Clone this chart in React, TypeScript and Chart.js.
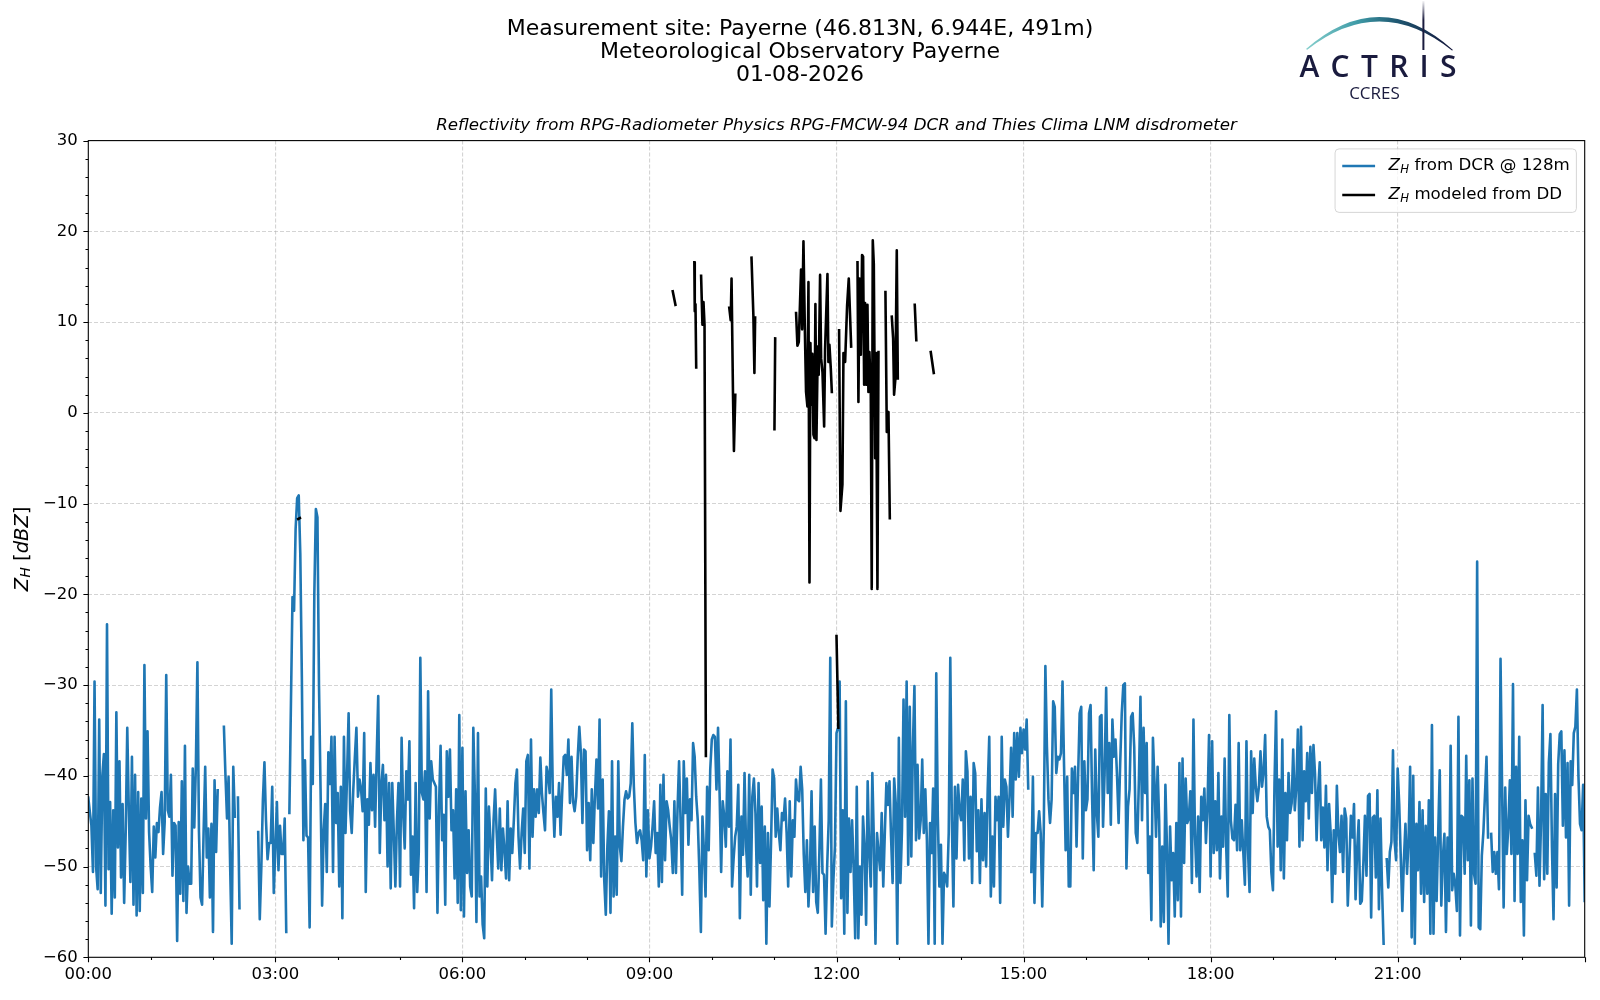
import React, { useEffect, useRef } from 'react';
import { Chart, registerables } from 'chart.js';

Chart.register(...registerables);

const FONT = "'DejaVu Sans', sans-serif";

const titleLines = [
  'Measurement site: Payerne (46.813N, 6.944E, 491m)',
  'Meteorological Observatory Payerne',
  '01-08-2026',
];
const subtitleText =
  'Reflectivity from RPG-Radiometer Physics RPG-FMCW-94 DCR and Thies Clima LNM disdrometer';
const legendRest = [' from DCR @ 128m', ' modeled from DD'];
const seriesColors = ['#1f77b4', '#000000'];

// Z_H from DCR @ 128m, one value every 1.5 minutes from 00:00 (null = no data)
const dcrStepMinutes = 1.5;
const dcrZh = [
  -42.4, -44, -45.5, -50.6, -29.6, -50, -52.5, -33.8, -52.9, -40,
  -37.6, -54.3, -23.3, -50.3, -42.9, -55.2, -43.8, -53.4, -33, -47.9,
  -38.4, -51.2, -43.1, -54, -46.2, -34.7, -43.8, -51.7, -37.9, -54.2,
  -39.9, -55.4, -41.8, -54.9, -42.5, -52.9, -27.8, -44.7, -35.1, -46.2,
  -50, -52.8, -45.6, -49, -45.2, -46.2, -43.5, -41.8, -48.6, -45.1,
  -28.9, -43.8, -44.5, -39.9, -51, -45.2, -45.5, -58.2, -45.1, -53,
  -40.6, -53.8, -36.7, -55.1, -50, -51.9, -51.9, -39.2, -45.7, -39,
  -27.5, -46.2, -53.4, -54.2, -46, -39, -49, -45.8, -53.4, -45.3,
  -57.2, -40.5, -48.4, -41.6, null, null, null, -34.6, -40, -44.7,
  -40.1, -49.9, -58.5, -39, -44.5, null, -42.4, -54.6, null, null,
  null, null, null, null, null, null, null, null, null, -46.2,
  -55.8, -50.1, -42.7, -38.5, -44.9, -49.2, -47.4, -47.4, -41.2, -52.9,
  -47.9, -42.9, -50.4, -45.5, -48.6, -48.6, -44.7, -57.2, null, -44.1,
  -32, -20.3, -21.8, -12.8, -9.4, -9.1, -15.5, -29.1, -47.1, -38.3,
  -46.6, -46.8, -56.7, -35.7, -40.9, -20, -10.6, -11.5, -30, -41.4,
  -54.3, -46, -43.1, -50.6, -37.4, -40.9, -35.7, -50.6, -35.7, -45.2,
  -41.9, -52.2, -41.2, -55.7, -35.7, -46.3, -40, -33.1, -43.9, -46.3,
  -41.5, -38, -34.7, -42.3, -40.4, -41.5, -43.9, -35.3, -52.8, -42.6,
  -45.4, -38.6, -43.8, -39.9, -45.6, -38, -31.2, -48.5, -41, -38.8,
  -44.9, -39.9, -50, -40.8, -52.4, -40.8, -46.3, -52.2, -45, -40.8,
  -52.2, -35.8, -44.1, -48, -39.5, -42.6, -36.2, -50.9, -46.7, -54.6,
  -40.8, -52.8, -48.5, -27, -41.9, -42.6, -39.5, -52.8, -30.7, -44.7,
  -38.4, -40.4, -40.8, -41.2, -55.1, -43.4, -36.7, -47.1, -44.3, -54.2,
  -37.3, -42.3, -37.1, -46, -43.8, -51.3, -41.5, -54, -33.3, -54.8,
  -36.9, -55.5, -41.7, -50.7, -46, -52.2, -53.3, -34.7, -41.9, -56.1,
  -35.3, -53.3, -51.1, -56.4, -57.9, -41.4, -52.2, -43.4, -47.1, -51.5,
  -44.9, -41.5, -46.3, -50.2, -43.6, -50.4, -45.8, -48.2, -51.3, -42.8,
  -51.5, -45.8, -48.5, -44.9, -40.8, -39.3, -46.7, -50.2, -46.3, -43.6,
  -48.5, -38.4, -37.7, -50.2, -36, -46.7, -41.5, -44.5, -41.5, -44.1,
  -38, -41.9, -44.1, -46, -39, -39.9, -41.9, -30.5, -41.9, -46.7,
  -42.3, -44.5, -40.8, -46.5, -41.9, -37.9, -37.7, -39.9, -36, -43,
  -37.9, -42.8, -43.9, -42.3, -37.9, -34.6, -37.5, -45.2, -37.1, -37.3,
  -48.2, -43, -49.3, -41.5, -47.4, -42.3, -38.2, -43.6, -33.8, -51.1,
  -40.4, -51.5, -55.3, -47.8, -43.9, -55.1, -38.4, -53.3, -46.7, -53.1,
  -38.4, -47.8, -49.4, -45.6, -42.6, -41.7, -42.5, -42.3, -40.8, -34.2,
  -41.2, -45.2, -47.4, -46.3, -46, -47.1, -49.3, -37.7, -51.1, -43.8,
  -49.1, -47.8, -45.6, -42.8, -48.5, -46.3, -52.2, -41, -51.7, -39.9,
  -49.3, -42.8, -43.8, -45.6, -47.1, -50.7, -42.8, -50.7, -43.8, -38.4,
  -45.2, -53.1, -38.4, -44.1, -40.3, -47.6, -42.6, -44.9, -36.4, -37.9,
  -42.3, -44.9, -50.4, -57.2, -44.5, -48.5, -53.3, -41.2, -48.2, -39.3,
  -36, -35.5, -35.7, -41.5, -34.7, -41.9, -50.6, -42.8, -44.5, -47.8,
  -39.5, -45.6, -36, -52.2, -49.1, -46.7, -45.6, -41, -55.7, -44.5,
  -48.7, -39.7, -47.8, -51.1, -39.9, -53.1, -42.3, -40.3, -44.1, -52.2,
  -40.8, -49.6, -43.4, -53.7, -45.6, -58.5, -46.3, -54.4, -47.4, -39.3,
  -40.3, -46.7, -43.6, -46.3, -48.2, -44.1, -44.9, -42.5, -46.3, -52.2,
  -42.8, -51.1, -44.9, -46.7, -40.4, -42.6, -42.8, -39, -41.5, -48.7,
  -52.8, -47.1, -54.4, -50.2, -41.7, -52.8, -45.6, -53.9, -55.1, -48.5,
  -40.4, -50.7, -50.9, -57.4, -50, -44.9, -27, -56.6, -51.5, -47.8,
  -35.3, -34.7, -29.6, -53.5, -43.8, -57.4, -31.8, -55.1, -44.7, -50.6,
  -44.9, -50.2, -57.9, -41.2, -57.9, -50, -55.3, -44.5, -47.8, -56.4,
  -40.6, -48.5, -52.2, -39.7, -47.4, -58.5, -46.3, -48.5, -50.4, -44.1,
  -52.2, -46.3, -40.8, -43.2, -40.6, -46.7, -51.8, -40.3, -43, -58.5,
  -35.8, -51.8, -46, -31.6, -44.5, -29.6, -49.8, -32.4, -48.9, -36.8,
  -30.1, -47.1, -38.8, -46.9, -44.9, -38.2, -46.3, -41.5, -47.1, -58.5,
  -45.2, -48.5, -41.4, -58.5, -28.7, -44.5, -52.2, -47.6, -58.5, -50.7,
  -51.1, -52.2, -46.3, -27, -44.9, -54.4, -41.2, -49.1, -41, -43.9,
  -44.9, -40.4, -49.3, -37.3, -39.5, -49.1, -42.3, -51.8, -38.6, -39.7,
  -48.3, -43.8, -51.8, -42.6, -49.3, -44.1, -50, -41.5, -35.7, -53.3,
  -46.7, -52.2, -42.3, -44.9, -42.3, -54, -35.7, -45.6, -40.4, -41.2,
  -46.7, -42.3, -36.9, -44.5, -35.3, -40.4, -35.3, -40.1, -34.7, -37.5,
  -34.9, -37.1, -33.8, -41.4, null, -50.6, -40.1, -54, -46.3, -46.3,
  -43.9, -46.3, -54.4, -45.6, -27.9, -36.8, -42.6, -45.2, -42.6, -31.8,
  -32.4, -39.7, -37.9, -38.2, -37.5, -29.6, -39, -48.2, -40.1, -52.2,
  -52.2, -39.2, -41.9, -39, -47.8, -40.1, -33.1, -32.4, -49.1, -38.4,
  -43.8, -42.6, -33.1, -32.2, -42.6, -50.4, -37.1, -44.1, -46.7, -33.5,
  -33.3, -45.6, -39.7, -30.3, -41.9, -36.4, -45.4, -33.8, -37.9, -36,
  -40.1, -45.2, -38.6, -33.1, -30, -29.8, -50.2, -43.4, -41.5, -33.5,
  -33.1, -36.8, -46.3, -47.4, -40.4, -31.3, -44.9, -34.7, -41.9, -36.4,
  -50.7, -46.7, -55.9, -35.8, -40.6, -46.7, -39, -44.9, -56.6, -47.8,
  -56.1, -41, -47.8, -58.5, -45.6, -51.5, -48.5, -55.5, -45.2, -53.7,
  -38.6, -55.5, -38.1, -49.6, -40.3, -45.2, -44.7, -41.7, -51.8, -33.8,
  -46.7, -51.1, -44.5, -52.8, -42.3, -44.9, -41.4, -47.4, -43.4, -35.5,
  -51.1, -36.2, -48.5, -42.8, -48.2, -39.7, -51.3, -44.5, -47.8, -38.1,
  -47.8, -53.3, -33.3, -44.9, -46.9, -47.1, -43.2, -48.2, -36.4, -48.2,
  -44.9, -48.5, -52, -36.2, -48.2, -52.8, -37.3, -44.1, -38.1, -41.2,
  -42.8, -41.2, -37.3, -41.2, -39.5, -35.5, -44.5, -45.6, -46, -50.7,
  -52.6, -40.8, -32.9, -47.8, -40.4, -50.4, -36, -51.3, -41.9, -47.1,
  -39.7, -44.1, -43, -37.1, -43.8, -41.2, -34.9, -47.8, -34.6, -47.1,
  -39.5, -42.8, -37.5, -44.7, -36.8, -41.9, -36.6, -39.8, -47.1, -41.6,
  -38.5, -47.1, -43.5, -47.9, -41.1, -50.4, -43.1, -46.2, -53.9, -46,
  -50.8, -41.1, -46.4, -48.4, -44.4, -50.6, -43.6, -44.7, -54.3, -49.7,
  -44.4, -46.8, -43.1, -53.6, -48.2, -44.9, -54.1, -53.8, -49.7, -44.4,
  -51, -42.2, -42, -55.6, -44.6, -44.4, -51.2, -41.6, -54.7, -44.7,
  -52.5, -58.5, null, -49.2, -52.3, -48.4, -47.3, -37.2, -47.1, -49.3,
  -39.2, -43.1, -49, -54.9, -49.3, -45.3, -50.8, -47.1, -39, -57.8,
  -40, -58.5, -45.3, -50.4, -42.9, -53, -43.8, -53.9, -45.5, -53,
  -42.7, -57.4, -34.4, -57.4, -46.8, -53.8, -46.4, -39.4, -54.3, -49,
  -46.4, -57.2, -46.8, -53.8, -36.7, -52.6, -50.8, -52.1, -54.9, -33.5,
  -57.6, -44.4, -44.6, -50.8, -37.8, -49.3, -40.5, -56.5, -40.3, -50.8,
  -51.9, -16.4, -56.7, -56.9, -48.8, -46.2, -42.2, -37.9, -46.8, null,
  -46.4, -50.6, -48.4, -50.8, -48.4, -52.5, -27.1, -41.3, -54.5, -41.3,
  -48.6, -45.7, -40.5, -48.6, -29.9, -53.8, -39, -48.6, -35.7, -53.9,
  -47.1, -57.6, -42.7, -51.5, -44.4, -45.3, -45.7, null, -48.6, -51,
  -41.3, -52.1, -44.9, -32.2, -51.4, -42, -50.8, -38.5, -35.4, -47.9,
  -55.8, -42, -52.3, -38.7, -35.4, -35.1, -45.5, -37.2, -46.8, -38.6,
  -54.3, -38.4, -41, -35.3, -34.6, -30.5, -40.1, -45.3, -46, -41,
  -53.8,
];

// Z_H modeled from the disdrometer: time (minutes after 00:00) and value (null = gap)
const ddMinutes = [
  202.0, 203.6, 204,
  562.4, 565.0, 566,
  583.2, 583.6, 584.3, 585.0, 586,
  589.7, 591.0, 592.0, 593.0, 594.3, 595,
  616.8, 618.2, 619.0, 620.4, 621.3, 622.6, 623,
  638.2, 640.0, 641.0, 641.7, 642,
  660.3, 661.0, 662,
  681.1, 682.4, 683.7, 685.0, 685.9, 686.9, 688.2, 689.5, 690.7, 692.0,
  693.0, 694.0, 694.9, 695.9, 696.8, 697.8, 698.8, 699.7, 700.7, 702.0,
  702.9, 704.2, 705.2, 706.5, 708.1, 709.0, 711.3, 712.2, 713.2, 714.5,
  715.5, 716,
  720.0, 721.8, 722.2,
  722.5, 723.8, 725.7, 726.7, 728.3, 730.2, 731.8, 734.1, 735,
  740.2, 741.1, 742.1, 743.4, 744.6, 745.6, 746.6, 747.5, 748.5, 749.8,
  750.7, 751.7, 753.0, 753.9, 754.9, 755.9, 757.2, 758.1, 759.4, 760.4,
  761,
  767.1, 768.4, 770.0, 771.3, 772,
  773.2, 774.5, 775.4, 776.7, 778.0, 779.0, 780,
  795.3, 796.8, 797,
  810.7, 813.6,
];
const ddZh = [
  -11.7, -11.6, null,
  13.4, 11.9, null,
  16.6, 11.2, 12.0, 5.0, null,
  15.1, 9.7, 12.2, 9.7, -37.8, null,
  11.6, 10.2, 14.8, 2.0, -4.2, 2.0, null,
  17.1, 10.8, 4.4, 10.5, null,
  -1.8, 8.2, null,
  11.0, 7.4, 7.8, 12.5, 15.8, 9.2, 18.9, 9.5, 2.3, 0.7,
  14.4, -18.7, 7.7, 0.9, 6.5, -2.4, -2.8, 12.0, -3.0, 7.3,
  4.2, 15.2, 6.0, 4.5, -1.5, 7.0, 15.3, 5.6, 7.5, 4.9,
  2.3, null,
  -24.6, -34.7, null,
  9.1, -10.8, -7.9, 6.6, 5.6, 11.8, 14.8, 7.3, null,
  16.6, 1.2, 14.8, 6.4, 17.4, 17.2, 3.1, 12.1, 3.1, 11.9,
  2.3, 6.7, 2.0, -19.4, 19.0, 16.4, -5.0, 6.6, -19.4, 6.7,
  null,
  13.3, -2.1, 0.1, -11.6, null,
  10.6, 8.2, 2.0, 3.8, 17.9, 3.8, null,
  11.9, 8.0, null,
  6.7, 4.4,
];

const yMin = -60;
const yMax = 30;
const yMinorStep = 2;
const yMajorStep = 10;
const xMaxMinutes = 1440;
const xMinorStep = 60;
const xMajorStep = 180;

const fmtY = (v: number) => (v < 0 ? '\u2212' + Math.abs(v) : String(v));
const fmtX = (m: number) => String(Math.floor(m / 60)).padStart(2, '0') + ':' + String(m % 60).padStart(2, '0');

const drawZH = (ctx: CanvasRenderingContext2D, x: number, y: number, size: number) => {
  ctx.font = `italic ${size}px ${FONT}`;
  ctx.fillText('Z', x, y);
  const wZ = ctx.measureText('Z').width;
  ctx.font = `italic ${size * 0.7}px ${FONT}`;
  ctx.fillText('H', x + wZ + 0.5, y + size * 0.22);
  return wZ + 0.5 + ctx.measureText('H').width;
};

const measureZH = (ctx: CanvasRenderingContext2D, size: number) => {
  ctx.font = `italic ${size}px ${FONT}`;
  const wZ = ctx.measureText('Z').width;
  ctx.font = `italic ${size * 0.7}px ${FONT}`;
  return wZ + 0.5 + ctx.measureText('H').width;
};

const decorPlugin = {
  id: 'decor',
  afterDraw(chart: any) {
    const { ctx, chartArea: a, scales } = chart;
    const xs = scales.x;
    const ys = scales.y;
    ctx.save();
    // frame
    ctx.strokeStyle = '#000';
    ctx.lineWidth = 1.1;
    ctx.setLineDash([]);
    ctx.strokeRect(a.left, a.top, a.right - a.left, a.bottom - a.top);
    // tick marks (major + minor)
    ctx.beginPath();
    for (const t of ys.ticks) {
      const v = Math.round(t.value);
      const py = Math.round(ys.getPixelForValue(v)) + 0.5;
      const len = v % yMajorStep === 0 ? 4.9 : 2.8;
      ctx.moveTo(a.left, py);
      ctx.lineTo(a.left - len, py);
    }
    for (const t of xs.ticks) {
      const v = Math.round(t.value);
      const px = Math.round(xs.getPixelForValue(v)) + 0.5;
      const len = v % xMajorStep === 0 ? 4.9 : 2.8;
      ctx.moveTo(px, a.bottom);
      ctx.lineTo(px, a.bottom + len);
    }
    ctx.stroke();

    // y axis label: Z_H [dBZ]
    const fs = 19.5;
    ctx.fillStyle = '#000';
    ctx.textBaseline = 'middle';
    ctx.textAlign = 'left';
    const wZH = measureZH(ctx, fs);
    ctx.font = `${fs}px ${FONT}`;
    const wOpen = ctx.measureText(' [').width;
    const wClose = ctx.measureText(']').width;
    ctx.font = `italic ${fs}px ${FONT}`;
    const wD = ctx.measureText('dBZ').width;
    const total = wZH + wOpen + wD + wClose;
    ctx.save();
    ctx.translate(22.5, (a.top + a.bottom) / 2);
    ctx.rotate(-Math.PI / 2);
    let cx = -total / 2;
    cx += drawZH(ctx, cx, 0, fs);
    ctx.font = `${fs}px ${FONT}`;
    ctx.fillText(' [', cx, 0);
    cx += wOpen;
    ctx.font = `italic ${fs}px ${FONT}`;
    ctx.fillText('dBZ', cx, 0);
    cx += wD;
    ctx.font = `${fs}px ${FONT}`;
    ctx.fillText(']', cx, 0);
    ctx.restore();

    // legend
    const lfs = 16.67;
    const wZHl = measureZH(ctx, lfs);
    const textWidths = legendRest.map((r) => {
      ctx.font = `${lfs}px ${FONT}`;
      return wZHl + ctx.measureText(r).width;
    });
    const tw = Math.max(...textWidths);
    const pad = 0.4 * lfs;
    const handle = 2 * lfs;
    const hpad = 0.8 * lfs;
    const boxW = pad + handle + hpad + tw + pad;
    const boxH = 63.5;
    const right = a.right - 8.3;
    const top = a.top + 8.3;
    const left = right - boxW;
    ctx.beginPath();
    if (ctx.roundRect) ctx.roundRect(left, top, boxW, boxH, 4);
    else ctx.rect(left, top, boxW, boxH);
    ctx.fillStyle = 'rgba(255,255,255,0.8)';
    ctx.fill();
    ctx.strokeStyle = 'rgba(204,204,204,0.8)';
    ctx.lineWidth = 1;
    ctx.stroke();
    const rowY = [top + 17, top + 46];
    legendRest.forEach((rest, i) => {
      const ry = rowY[i];
      ctx.beginPath();
      ctx.strokeStyle = seriesColors[i];
      ctx.lineWidth = 2.5;
      ctx.lineCap = 'butt';
      ctx.moveTo(left + pad + 0.5, ry);
      ctx.lineTo(left + pad + handle, ry);
      ctx.stroke();
      ctx.fillStyle = '#000';
      ctx.textBaseline = 'middle';
      let tx = left + pad + handle + hpad;
      tx += drawZH(ctx, tx, ry, lfs);
      ctx.font = `${lfs}px ${FONT}`;
      ctx.fillText(rest, tx, ry);
    });
    ctx.restore();
  },
};

function Logo() {
  const navy = '#1a1b3e';
  return (
    <svg
      width={200}
      height={110}
      viewBox="0 0 200 110"
      style={{ position: 'absolute', left: 1280, top: 0 }}
    >
      <defs>
        <linearGradient id="arcGrad" x1="26" y1="0" x2="172" y2="0" gradientUnits="userSpaceOnUse">
          <stop offset="0" stopColor="#86cfcd" />
          <stop offset="0.35" stopColor="#3f9ba7" />
          <stop offset="0.62" stopColor="#1f5872" />
          <stop offset="1" stopColor="#12153a" />
        </linearGradient>
        <linearGradient id="barGrad" x1="0" y1="0" x2="0" y2="50" gradientUnits="userSpaceOnUse">
          <stop offset="0" stopColor={navy} stopOpacity="0" />
          <stop offset="0.4" stopColor={navy} stopOpacity="1" />
          <stop offset="1" stopColor={navy} stopOpacity="1" />
        </linearGradient>
      </defs>
      <path d="M 26 49 Q 100 -15.5 173 50 L 172 50.6 Q 100 -7 27.2 49.8 Z" fill="url(#arcGrad)" />
      <rect x={142.4} y={1} width={2} height={49} fill="url(#barGrad)" />
      <text
        x={19.5}
        y={77}
        fontFamily="'Open Sans', Lato, sans-serif"
        fontSize={30}
        fontWeight={600}
        fill={navy}
        textLength={157}
        lengthAdjust="spacing"
      >
        ACTRIS
      </text>
      <text
        x={94.5}
        y={99}
        fontFamily="'Open Sans', Lato, sans-serif"
        fontSize={17}
        fill={navy}
        textAnchor="middle"
      >
        CCRES
      </text>
    </svg>
  );
}

export default function App() {
  const canvasRef = useRef<HTMLCanvasElement | null>(null);

  useEffect(() => {
    const canvas = canvasRef.current;
    if (!canvas) return;
    const dcrPoints = dcrZh.map((v, i) => ({ x: i * dcrStepMinutes, y: v }));
    const ddPoints = ddZh.map((v, i) => ({ x: ddMinutes[i], y: v }));
    const gridColor = 'rgba(176,176,176,0.55)';

    const chart = new Chart(canvas, {
      type: 'line',
      data: {
        datasets: [
          {
            label: 'Z_H from DCR @ 128m',
            data: dcrPoints as any,
            borderColor: seriesColors[0],
            backgroundColor: seriesColors[0],
            borderWidth: 2.6,
            pointRadius: 0,
            tension: 0,
            spanGaps: false,
            borderJoinStyle: 'round',
            borderCapStyle: 'square',
            order: 1,
          },
          {
            label: 'Z_H modeled from DD',
            data: ddPoints as any,
            borderColor: seriesColors[1],
            backgroundColor: seriesColors[1],
            borderWidth: 2.6,
            pointRadius: 0,
            tension: 0,
            spanGaps: false,
            borderJoinStyle: 'round',
            borderCapStyle: 'square',
            order: 0,
          },
        ],
      },
      options: {
        responsive: false,
        animation: false,
        devicePixelRatio: 1,
        events: [],
        layout: { padding: { left: 15.3, right: 15.3, top: 0, bottom: 0 } },
        plugins: {
          legend: { display: false },
          tooltip: { enabled: false },
          title: {
            display: true,
            text: titleLines,
            color: '#000',
            font: { family: FONT, size: 22, weight: 'normal', lineHeight: 23.3 / 22 },
            padding: { top: 17.35, bottom: 0 },
          },
          subtitle: {
            display: true,
            text: subtitleText,
            color: '#000',
            fullSize: false,
            font: { family: FONT, size: 16.67, style: 'italic', weight: 'normal', lineHeight: 1.2 },
            padding: { top: 28.75, bottom: 4.6 },
          },
        },
        scales: {
          x: {
            type: 'linear',
            position: 'bottom',
            min: 0,
            max: xMaxMinutes,
            afterFit: (s: any) => {
              s.height = 42.7;
            },
            ticks: {
              stepSize: xMinorStep,
              autoSkip: false,
              maxRotation: 0,
              minRotation: 0,
              padding: 8,
              color: '#000',
              font: { family: FONT, size: 16.5 },
              callback: (v: any) => {
                const m = Math.round(Number(v));
                return m % xMajorStep === 0 && m < xMaxMinutes ? fmtX(m) : '';
              },
            },
            grid: {
              drawTicks: false,
              lineWidth: 1.1,
              color: (c: any) => {
                const m = c.tick ? Math.round(c.tick.value) : -1;
                return m > 0 && m < xMaxMinutes && m % xMajorStep === 0 ? gridColor : 'rgba(0,0,0,0)';
              },
            },
            border: { display: false, dash: [4, 2] },
          },
          y: {
            type: 'linear',
            position: 'left',
            min: yMin,
            max: yMax,
            afterFit: (s: any) => {
              s.width = 73;
            },
            ticks: {
              stepSize: yMinorStep,
              autoSkip: false,
              padding: 10.5,
              color: '#000',
              font: { family: FONT, size: 16.5 },
              callback: (v: any) => {
                const n = Math.round(Number(v));
                return n % yMajorStep === 0 ? fmtY(n) : '';
              },
            },
            grid: {
              drawTicks: false,
              lineWidth: 1.1,
              color: (c: any) => {
                const n = c.tick ? Math.round(c.tick.value) : 999;
                return n > yMin && n < yMax && n % yMajorStep === 0 ? gridColor : 'rgba(0,0,0,0)';
              },
            },
            border: { display: false, dash: [4, 2] },
          },
        },
      } as any,
      plugins: [decorPlugin],
    });
    return () => chart.destroy();
  }, []);

  return (
    <div
      style={{
        position: 'fixed',
        left: 0,
        top: 0,
        width: 1600,
        height: 1000,
        background: '#ffffff',
        overflow: 'hidden',
      }}
    >
      <canvas
        ref={canvasRef}
        width={1600}
        height={1000}
        style={{ position: 'absolute', left: 0, top: 0, width: 1600, height: 1000 }}
      />
      <Logo />
    </div>
  );
}
